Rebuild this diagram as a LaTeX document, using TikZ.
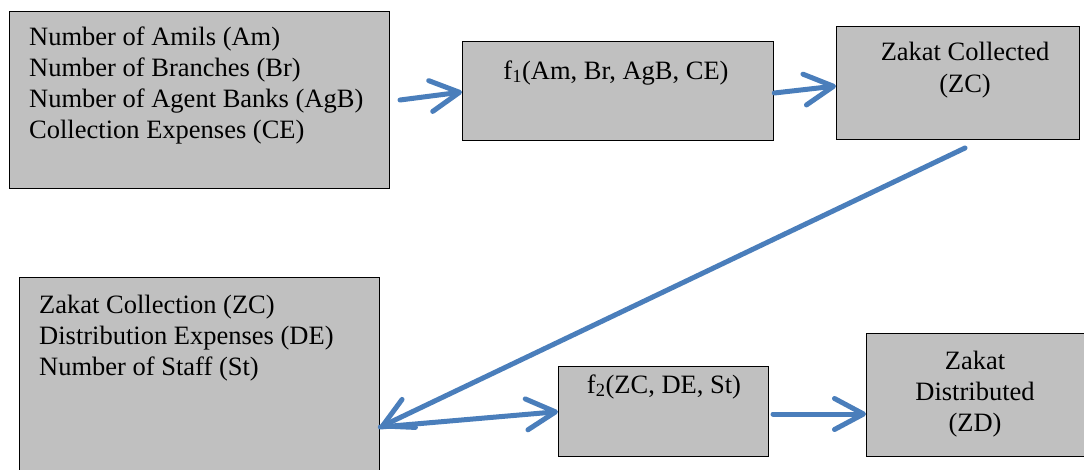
\documentclass[tikz,border=0pt]{standalone}
\usepackage{fontspec}
\setmainfont{Liberation Serif}
\usetikzlibrary{arrows.meta,calc}
\definecolor{boxfill}{RGB}{192,192,192}
\definecolor{flow}{RGB}{74,126,187}

\begin{document}
\begin{tikzpicture}[x=1pt,y=-1pt,
  box/.style={draw=black, line width=1.3pt, fill=boxfill, inner sep=0pt, anchor=north west},
  txt/.style={inner sep=0pt, font=\fontsize{26.5}{31}\selectfont},
  flowarrow/.style={draw=flow, line width=5pt, line cap=round,
    -{Straight Barb[length=29pt,width=31pt,round]}}
]
\useasboundingbox (0,0) rectangle (1084,469);

% boxes
\node[box, minimum width=380pt, minimum height=177pt] (inputs1) at (9,11) {};
\node[box, minimum width=311pt, minimum height=99pt]  (f1)      at (462,41) {};
\node[box, minimum width=243pt, minimum height=113pt] (zc)      at (836,26) {};
\node[box, minimum width=360pt, minimum height=210pt] (inputs2) at (19,277) {};
\node[box, minimum width=210pt, minimum height=90pt]  (f2)      at (558,366) {};
\node[box, minimum width=218pt, minimum height=123pt] (zd)      at (866,333) {};

% texts
\node[txt, anchor=base west] (am)  at (29,45)  {Number of Amils (Am)};
\node[txt, anchor=base west] (br)  at (29,76)  {Number of Branches (Br)};
\node[txt, anchor=base west] (agb) at (29,107) {Number of Agent Banks (AgB)};
\node[txt, anchor=base west] (ce)  at (29,138) {Collection Expenses (CE)};

\node[txt, anchor=base] (f1t) at (616,79) {f\textsubscript{1}(Am, Br, AgB, CE)};

\node[txt, anchor=base] (zc1) at (965,60) {Zakat Collected};
\node[txt, anchor=base] (zc2) at (965,92) {(ZC)};

\node[txt, anchor=base west] (zcl) at (39,313) {Zakat Collection (ZC)};
\node[txt, anchor=base west] (de)  at (39,344) {Distribution Expenses (DE)};
\node[txt, anchor=base west] (st)  at (39,375) {Number of Staff (St)};

\node[txt, anchor=base] (f2t) at (664,393) {f\textsubscript{2}(ZC, DE, St)};

\node[txt, anchor=base] (zd1) at (975,369) {Zakat};
\node[txt, anchor=base] (zd2) at (975,400) {Distributed};
\node[txt, anchor=base] (zd3) at (975,431) {(ZD)};

% connectors
\coordinate (s1) at (400,100);
\coordinate (s3) at (965,148);
\coordinate (s5) at (773,414);
\coordinate (e4) at ($(inputs2.north east)+(0,150)$);

\draw[flowarrow] (s1) -- ($(f1.north west)+(0,51)$);
\draw[flowarrow] ($(f1.north east)+(0,52)$) -- ($(zc.north west)+(0,60)$);
\draw[flowarrow] (s3) -- (e4);
\draw[flowarrow] (e4) -- (f2.west);
\draw[flowarrow] (s5) -- ($(zd.north west)+(0,81)$);
\end{tikzpicture}
\end{document}
